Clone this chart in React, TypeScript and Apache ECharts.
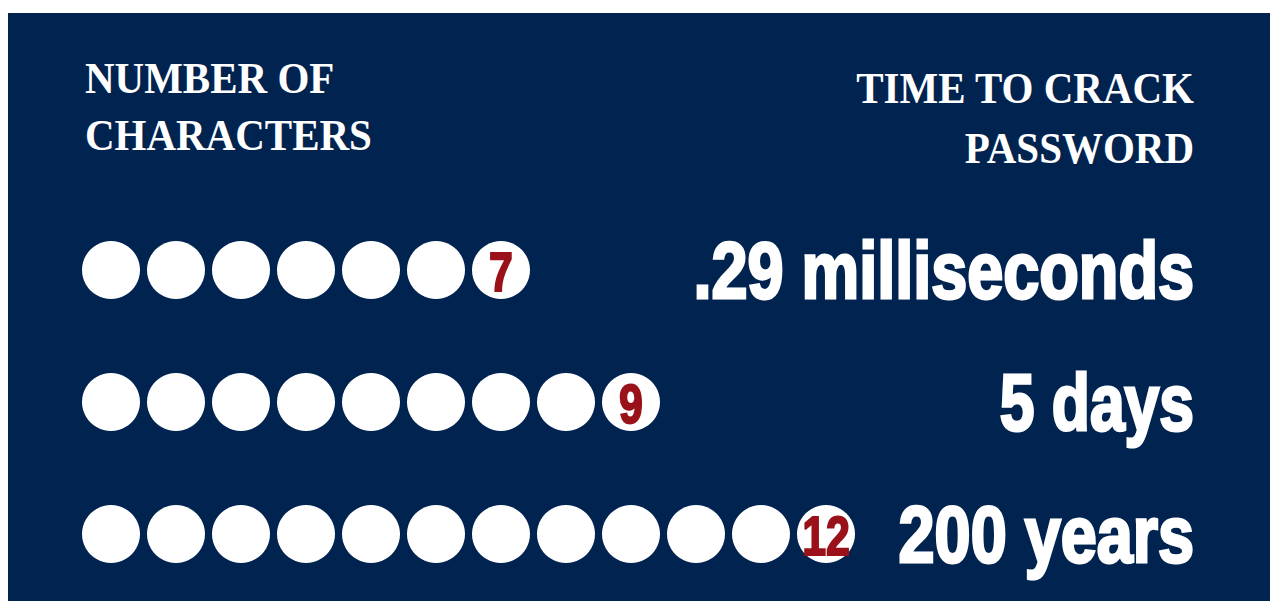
import React, { useEffect, useRef } from "react";
import * as echarts from "echarts";

// ---- data ----
const characterCounts = [7, 9, 12];
const crackTimes = [".29 milliseconds", "5 days", "200 years"];
const leftHeader = ["NUMBER OF", "CHARACTERS"];
const rightHeader = ["TIME TO CRACK", "PASSWORD"];

const NAVY = "#012350";
const RED = "#9a1119";
const WHITE = "#ffffff";

export default function App() {
  const ref = useRef<HTMLDivElement>(null);

  useEffect(() => {
    if (!ref.current) return;
    const chart = echarts.init(ref.current, undefined, { renderer: "svg" });

    const maxCount = Math.max(...characterCounts);
    const circlePoints: number[][] = [];
    characterCounts.forEach((c, r) => {
      for (let i = 0; i < c; i++) circlePoints.push([i, r]);
    });
    const lastPoints = characterCounts.map((c, r) => [c - 1, r]);

    const headerStyle = {
      fill: WHITE,
      fontFamily: "Liberation Serif",
      fontWeight: "bold",
      fontSize: 41,
      verticalAlign: "middle",
    };

    chart.setOption({
      animation: false,
      backgroundColor: NAVY,
      grid: { left: 103, top: 257, width: 715, height: 264 },
      xAxis: { type: "value", min: 0, max: maxCount - 1, show: false },
      yAxis: { type: "value", min: 0, max: characterCounts.length - 1, inverse: true, show: false },
      graphic: [
        { type: "text", x: 77, y: 65, scaleY: 1.1, style: { ...headerStyle, text: leftHeader[0], align: "left" } },
        { type: "text", x: 77, y: 122, scaleY: 1.1, style: { ...headerStyle, text: leftHeader[1], align: "left" } },
        { type: "text", x: 1186, y: 75, scaleY: 1.1, style: { ...headerStyle, text: rightHeader[0], align: "right" } },
        { type: "text", x: 1186, y: 135, scaleY: 1.1, style: { ...headerStyle, text: rightHeader[1], align: "right" } },
      ],
      series: [
        {
          type: "scatter",
          data: circlePoints,
          symbol: "circle",
          symbolSize: 58,
          itemStyle: { color: WHITE, opacity: 1 },
          silent: true,
          z: 2,
        },
        {
          type: "custom",
          data: lastPoints,
          encode: { x: 0, y: 1 },
          silent: true,
          z: 5,
          renderItem: (params: any, api: any) => {
            const idx = params.dataIndex;
            const p = api.coord([api.value(0), api.value(1)]);
            return {
              type: "group",
              children: [
                {
                  type: "text",
                  x: p[0],
                  y: p[1] + 1,
                  scaleX: 0.78,
                  z2: 10,
                  style: {
                    text: String(characterCounts[idx]),
                    fill: RED,
                    stroke: RED,
                    lineWidth: 2,
                    fontFamily: "Liberation Sans",
                    fontWeight: "bold",
                    fontSize: 55,
                    align: "center",
                    verticalAlign: "middle",
                  },
                },
                {
                  type: "text",
                  x: api.getWidth() - 76,
                  y: p[1],
                  scaleX: idx === 1 ? 0.78 : 0.81,
                  style: {
                    text: crackTimes[idx],
                    fill: WHITE,
                    stroke: WHITE,
                    lineWidth: 3,
                    fontFamily: "Liberation Sans",
                    fontWeight: "bold",
                    fontSize: 80,
                    align: "right",
                    verticalAlign: "middle",
                  },
                },
              ],
            };
          },
        },
      ],
    });

    return () => chart.dispose();
  }, []);

  return (
    <div style={{ position: "fixed", left: 0, top: 0, width: 1283, height: 601, background: "#ffffff" }}>
      <div ref={ref} style={{ position: "absolute", left: 8, top: 13, width: 1262, height: 588 }} />
    </div>
  );
}
